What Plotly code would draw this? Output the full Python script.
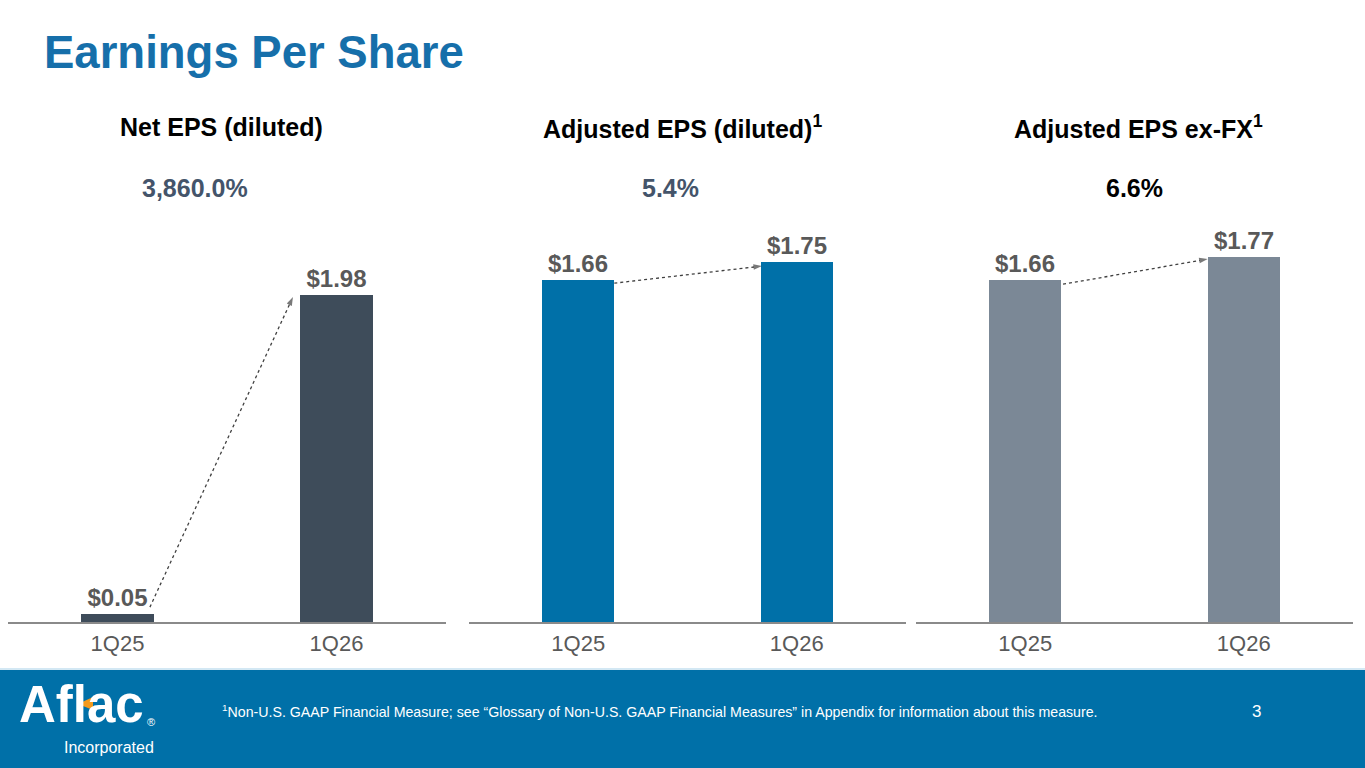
import plotly.graph_objects as go

# ---------------- data ----------------
quarters = ["1Q25", "1Q26"]
net_eps = [0.05, 1.98]
adj_eps = [1.66, 1.75]
adj_eps_exfx = [1.66, 1.77]
panel_titles = ["Net EPS (diluted)", "Adjusted EPS (diluted)<sup>1</sup>", "Adjusted EPS ex-FX<sup>1</sup>"]
growth_labels = ["3,860.0%", "5.4%", "6.6%"]
slide_title = "Earnings Per Share"
footnote = ("<sup>1</sup>Non-U.S. GAAP Financial Measure; see \u201cGlossary of Non-U.S. GAAP Financial "
            "Measures\u201d in Appendix for information about this measure.")
page_number = "3"

# ---------------- style ----------------
W, H = 1365, 768
FONT = "Arial, 'Liberation Sans', sans-serif"
bar_colors = ["#3e4c5a", "#0070a8", "#7b8896"]
growth_colors = ["#44546a", "#44546a", "#000000"]
BW = 0.33
x_domains_px = [(8, 446), (469, 906), (916, 1353)]
y_base_px, y_top_px = 622, 222
y_max = [2.422, 1.942, 1.942]
title_pos = [(221, 127), (682, 127), (1138, 127)]
growth_pos = [(195, 188), (670, 188), (1134, 188)]
arrow_start_dx = [-0.017, 0.0, 0.008]
arrow_start_dy = [0.04, -0.015, -0.02]
arrow_end_dx = [-0.034, 0.006, 0.0]
arrow_end_dy = [-0.012, -0.022, -0.008]


def px(x):
    return x / W


def py(y):
    return 1 - y / H


series = [net_eps, adj_eps, adj_eps_exfx]
xpos = list(range(len(quarters)))

fig = go.Figure()
annotations = []
for i, vals in enumerate(series):
    xa = "x" if i == 0 else f"x{i+1}"
    ya = "y" if i == 0 else f"y{i+1}"
    fig.add_trace(go.Bar(
        x=xpos, y=vals, xaxis=xa, yaxis=ya, width=BW,
        marker=dict(color=bar_colors[i], line=dict(width=0)),
        texttemplate="$%{y:.2f}", textposition="outside", cliponaxis=False,
        textfont=dict(family=FONT, size=24, color="#595959", weight="bold"),
        hoverinfo="skip", showlegend=False,
    ))
    # dotted growth arrow between the bars
    x0 = xpos[0] + BW / 2 + arrow_start_dx[i]
    x1 = xpos[1] - BW / 2 + arrow_end_dx[i]
    y0 = vals[0] + arrow_start_dy[i]
    y1 = vals[1] + arrow_end_dy[i]
    fig.add_trace(go.Scatter(
        x=[x0, x1], y=[y0, y1], xaxis=xa, yaxis=ya, mode="lines+markers",
        line=dict(color="#404040", width=1.3, dash="dot"),
        marker=dict(symbol=["circle", "arrow"], size=[0, 9], angleref="previous",
                    color="#404040", line=dict(width=0)),
        hoverinfo="skip", showlegend=False, cliponaxis=False,
    ))
    d0, d1 = x_domains_px[i]
    fig.update_layout(**{
        ("xaxis" if i == 0 else f"xaxis{i+1}"): dict(
            domain=[px(d0), px(d1)], range=[-0.5, 1.5], anchor=ya,
            tickvals=xpos, ticktext=quarters, showline=True, linecolor="#8a8a8a",
            linewidth=1.5, showgrid=False, zeroline=False, ticks="",
            tickfont=dict(family=FONT, size=22, color="#595959"),
            ticklabelstandoff=1, fixedrange=True,
        ),
        ("yaxis" if i == 0 else f"yaxis{i+1}"): dict(
            domain=[py(y_base_px), py(y_top_px)], range=[0, y_max[i]], anchor=xa,
            visible=False, fixedrange=True,
        ),
    })
    annotations.append(dict(
        text=f"<b>{panel_titles[i]}</b>", x=px(title_pos[i][0]), y=py(title_pos[i][1]),
        xref="paper", yref="paper", xanchor="center", yanchor="middle", showarrow=False,
        font=dict(family=FONT, size=25, color="#000000"),
    ))
    annotations.append(dict(
        text=f"<b>{growth_labels[i]}</b>", x=px(growth_pos[i][0]), y=py(growth_pos[i][1]),
        xref="paper", yref="paper", xanchor="center", yanchor="middle", showarrow=False,
        font=dict(family=FONT, size=25, color=growth_colors[i]),
    ))

# slide title
annotations.append(dict(
    text=f"<b>{slide_title}</b>", x=px(42), y=py(52), xref="paper", yref="paper",
    xanchor="left", yanchor="middle", showarrow=False,
    font=dict(family=FONT, size=45.5, color="#166faa"),
))
# footer texts
annotations += [
    dict(text="<b>Aflac</b>", x=px(17), y=py(704), xref="paper", yref="paper",
         xanchor="left", yanchor="middle", showarrow=False,
         font=dict(family=FONT, size=51, color="#ffffff")),
    dict(text="\u00ae", x=px(151), y=py(722), xref="paper", yref="paper",
         xanchor="center", yanchor="middle", showarrow=False,
         font=dict(family=FONT, size=11, color="#ffffff")),
    dict(text="Incorporated", x=px(109), y=py(747), xref="paper", yref="paper",
         xanchor="center", yanchor="middle", showarrow=False,
         font=dict(family=FONT, size=16, color="#ffffff")),
    dict(text=footnote, x=px(220), y=py(711), xref="paper", yref="paper",
         xanchor="left", yanchor="middle", showarrow=False,
         font=dict(family=FONT, size=14.2, color="#ffffff")),
    dict(text=page_number, x=px(1256), y=py(711), xref="paper", yref="paper",
         xanchor="center", yanchor="middle", showarrow=False,
         font=dict(family=FONT, size=17, color="#ffffff")),
]

shapes = [
    dict(type="rect", xref="paper", yref="paper", x0=0, x1=1, y0=0, y1=py(670),
         fillcolor="#0070a8", line=dict(width=0), layer="below"),
    dict(type="line", xref="paper", yref="paper", x0=0, x1=1, y0=py(669), y1=py(669),
         line=dict(color="#d3e8f4", width=2), layer="below"),
    # orange beak of the duck in the logo
    dict(type="path", xref="paper", yref="paper",
         path=f"M {px(93)},{py(697)} L {px(78)},{py(704)} L {px(93)},{py(710)} Z",
         fillcolor="#f39a1e", line=dict(width=0), layer="above"),
]

fig.update_layout(
    width=W, height=H, margin=dict(l=0, r=0, t=0, b=0),
    paper_bgcolor="#ffffff", plot_bgcolor="rgba(0,0,0,0)",
    annotations=annotations, shapes=shapes, bargap=0,
    font=dict(family=FONT),
)

fig.write_html(
    "out.html",
    config={"displayModeBar": False},
    post_script="document.body.style.margin='0';document.body.style.padding='0';"
                "document.body.style.overflow='hidden';",
)
